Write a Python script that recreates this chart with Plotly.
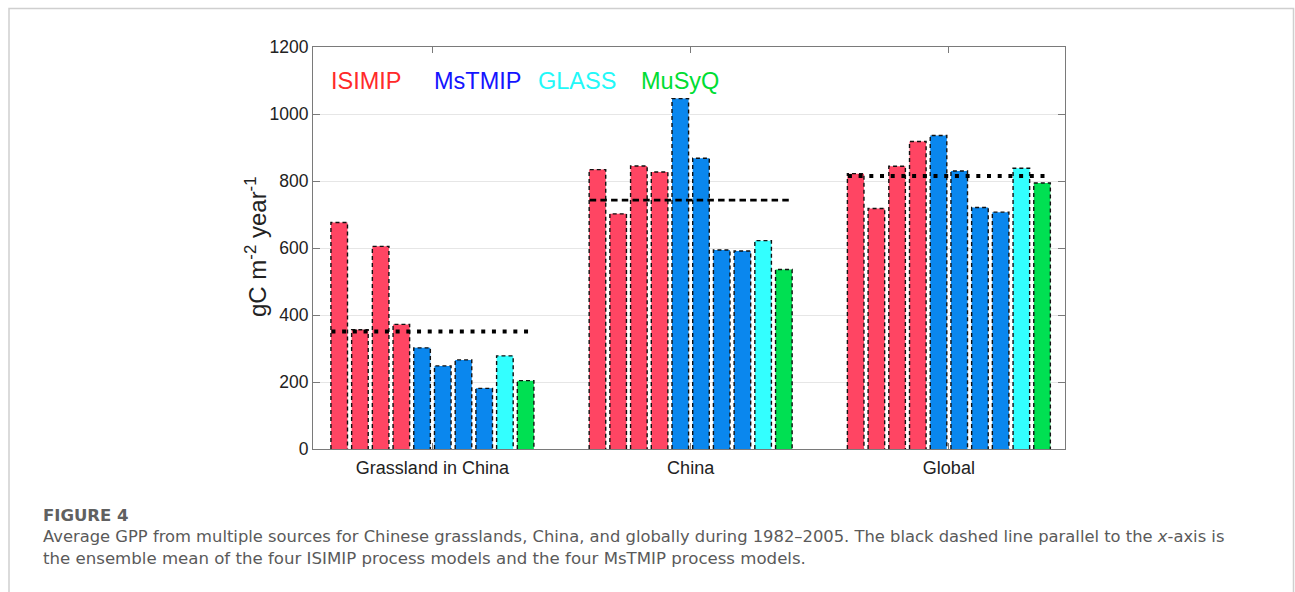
import plotly.graph_objects as go

# ---- data -------------------------------------------------------------
regions = ["Grassland in China", "China", "Global"]

# GPP (gC m-2 year-1) per source, one list per source, values per region
isimip_1 = [676, 834, 822]
isimip_2 = [356, 702, 718]
isimip_3 = [605, 845, 844]
isimip_4 = [372, 827, 918]
mstmip_1 = [302, 1046, 936]
mstmip_2 = [248, 868, 830]
mstmip_3 = [266, 594, 721]
mstmip_4 = [181, 591, 707]
glass = [278, 622, 838]
musyq = [204, 536, 794]

# ensemble mean of the eight process models
ensemble_mean = [351, 743, 815]

sources = [isimip_1, isimip_2, isimip_3, isimip_4,
           mstmip_1, mstmip_2, mstmip_3, mstmip_4,
           glass, musyq]

RED, BLUE, CYAN, GREEN = "#FF4563", "#0A87EE", "#33FFFF", "#00E052"
bar_colors = [RED] * 4 + [BLUE] * 4 + [CYAN, GREEN]

legend_names = ["ISIMIP", "MsTMIP", "GLASS", "MuSyQ"]
legend_colors = ["#FF2A2A", "#1414FF", "#22F8F8", "#00DD33"]

# ---- layout constants -------------------------------------------------
W_FIG, H_FIG = 1295, 592
L, R, T, B = 313, 1065, 47, 449          # plot area in pixels
X_RANGE = [-0.4624, 2.4497]

group_width = 0.802
n = len(sources)
slot = group_width / n
bar_w = slot * 0.8
xc = list(range(len(regions)))


def px_x(p):
    return (p - L) / (R - L)


def px_y(p):
    return (B - p) / (B - T)


fig = go.Figure()

for i, (vals, col) in enumerate(zip(sources, bar_colors)):
    off = -group_width / 2 + i * slot + (slot - bar_w) / 2
    fig.add_trace(go.Bar(
        x=xc, y=vals, offset=off, width=bar_w,
        marker=dict(color=col, line=dict(width=0)),
        showlegend=False, hoverinfo="y",
    ))
    # dashed outline of each bar
    ox, oy = [], []
    for c, v in zip(xc, vals):
        x0 = c + off
        x1 = x0 + bar_w
        ox += [x0, x0, x1, x1, None]
        oy += [0, v, v, 0, None]
    fig.add_trace(go.Scatter(
        x=ox, y=oy, mode="lines",
        line=dict(color="#111111", width=1.4, dash="4px,3px"),
        showlegend=False, hoverinfo="skip",
    ))

# ensemble mean line over each group
half = group_width / 2 - (slot - bar_w) / 2 - 0.002
mean_styles = [
    dict(color="black", width=4, dash="4px,6.7px"),
    dict(color="black", width=2.6, dash="6.5px,4.2px"),
    dict(color="black", width=4, dash="4px,6.7px"),
]
for c, m, st in zip(xc, ensemble_mean, mean_styles):
    fig.add_trace(go.Scatter(
        x=[c - half, c + half], y=[m, m], mode="lines",
        line=st, showlegend=False, hoverinfo="y",
    ))

# ---- text -------------------------------------------------------------
ann = []
legend_left = [329, 432, 536, 639]
for name, col, xl in zip(legend_names, legend_colors, legend_left):
    ann.append(dict(
        text=name, xref="paper", yref="paper", x=px_x(xl), y=px_y(81),
        xanchor="left", yanchor="middle", showarrow=False,
        font=dict(family="Liberation Sans, Arial", size=23.5, color=col),
    ))

ann.append(dict(
    text="gC m<sup>-2</sup> year<sup>-1</sup>", textangle=-90,
    xref="paper", yref="paper", x=px_x(256), y=px_y(247),
    xanchor="center", yanchor="middle", showarrow=False,
    font=dict(family="Liberation Sans, Arial", size=24, color="#222222"),
))

CAP_FONT = "DejaVu Sans, sans-serif"
ann.append(dict(
    text="<b>FIGURE 4</b>", xref="paper", yref="paper",
    x=px_x(41), y=px_y(515), xanchor="left", yanchor="middle",
    showarrow=False, font=dict(family=CAP_FONT, size=16.5, color="#606060"),
))
ann.append(dict(
    text="Average GPP from multiple sources for Chinese grasslands, China, and globally "
         "during 1982\u20132005. The black dashed line parallel to the <i>x</i>-axis is",
    xref="paper", yref="paper", x=px_x(41), y=px_y(536),
    xanchor="left", yanchor="middle", showarrow=False,
    font=dict(family=CAP_FONT, size=16.35, color="#5a5a5a"),
))
ann.append(dict(
    text="the ensemble mean of the four ISIMIP process models and the four MsTMIP process models.",
    xref="paper", yref="paper", x=px_x(41), y=px_y(558),
    xanchor="left", yanchor="middle", showarrow=False,
    font=dict(family=CAP_FONT, size=16.6, color="#5a5a5a"),
))

# card frame (open at the bottom)
frame = dict(type="path", xref="paper", yref="paper",
             path=f"M {px_x(9)} {px_y(620)} L {px_x(9)} {px_y(8.5)} "
                  f"L {px_x(1293.5)} {px_y(8.5)} L {px_x(1293.5)} {px_y(620)}",
             line=dict(color="#cfcfcf", width=1.5))

AX = "#7a7a7a"
fig.update_layout(
    width=W_FIG, height=H_FIG,
    margin=dict(l=L, r=W_FIG - R, t=T, b=H_FIG - B, pad=0),
    paper_bgcolor="white", plot_bgcolor="white",
    barmode="overlay",
    showlegend=False,
    annotations=ann,
    shapes=[frame],
    xaxis=dict(
        range=X_RANGE, tickvals=xc, ticktext=regions,
        ticks="inside", ticklen=6, tickcolor=AX,
        showline=True, linecolor=AX, linewidth=1, mirror="ticks",
        showgrid=False, zeroline=False, ticklabelstandoff=2,
        tickfont=dict(family="Liberation Sans, Arial", size=18, color="#222222"),
    ),
    yaxis=dict(
        range=[0, 1200], dtick=200,
        ticks="inside", ticklen=7, tickcolor=AX,
        showline=True, linecolor=AX, linewidth=1, mirror="ticks",
        showgrid=True, gridcolor="#e6e6e6", gridwidth=1, zeroline=False,
        tickfont=dict(family="Liberation Sans, Arial", size=17.5, color="#222222"),
    ),
)

fig.write_html("out.html")
